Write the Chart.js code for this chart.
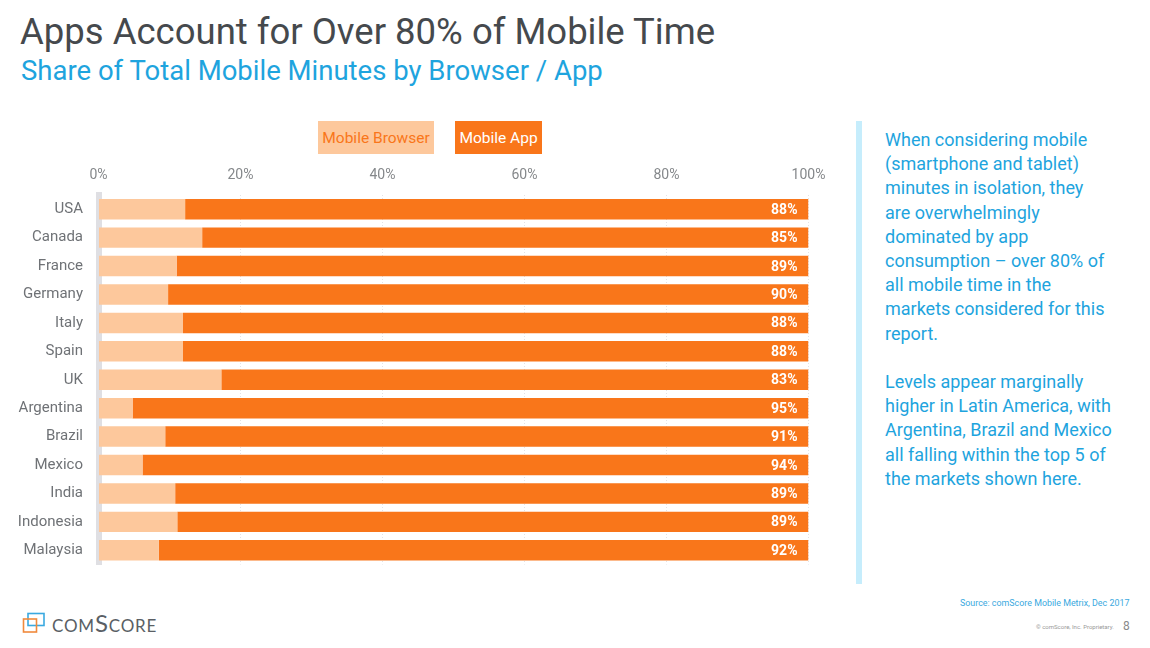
<!DOCTYPE html>
<html>
<head>
<meta charset="utf-8">
<script src="https://cdn.jsdelivr.net/npm/chart.js@4"></script>
<style>
  html, body { margin: 0; padding: 0; background: #fff; }
  body { width: 1150px; height: 648px; position: relative; overflow: hidden; font-family: Roboto, sans-serif; }
  .abs { position: absolute; white-space: nowrap; }
  #title { left: 20px; top: 9px; font-size: 36.5px; line-height: 46px; color: #45494d; }
  #subtitle { left: 21px; top: 52px; font-size: 27.5px; line-height: 38px; color: #1ea4de; }
  #chartBox { position: absolute; left: 0; top: 150px; width: 850px; height: 439px; }
  .legendBox { position: absolute; top: 121px; height: 33px; line-height: 34px; text-align: center; font-size: 15.5px; }
  #legBrowser { left: 318px; width: 116px; background: #fdc89c; color: #f9761a; }
  #legApp { left: 455px; width: 87px; background: #f9761a; color: #fff; }
  #divider { position: absolute; left: 856px; top: 121px; width: 6px; height: 463px; background: #c6edfc; }
  #note { left: 885px; top: 128px; font-size: 18px; line-height: 24.2px; color: #1ea4de; }
  #source { left: 960px; top: 598px; font-size: 8.9px; color: #3aa9e0; }
  #rights { left: 1036px; top: 623px; font-size: 6px; color: #999; }
  #page { left: 1123px; top: 619px; font-size: 12px; color: #8a8a8a; }
  #logoText { left: 52px; top: 608px; font-family: Lato, sans-serif; font-size: 24px; letter-spacing: .8px; color: #5a5f65; font-variant: small-caps; }
  #logo { position: absolute; left: 22px; top: 612px; }
</style>
</head>
<body>
<div class="abs" id="title">Apps Account for Over 80% of Mobile Time</div>
<div class="abs" id="subtitle">Share of Total Mobile Minutes by Browser / App</div>
<div class="legendBox" id="legBrowser">Mobile Browser</div>
<div class="legendBox" id="legApp">Mobile App</div>
<div id="chartBox"><canvas id="myChart"></canvas></div>
<div id="divider"></div>
<div class="abs" id="note">When considering mobile<br>(smartphone and tablet)<br>minutes in isolation, they<br>are overwhelmingly<br>dominated by app<br>consumption – over 80% of<br>all mobile time in the<br>markets considered for this<br>report.<br><br>Levels appear marginally<br>higher in Latin America, with<br>Argentina, Brazil and Mexico<br>all falling within the top 5 of<br>the markets shown here.</div>
<div class="abs" id="source">Source: comScore Mobile Metrix, Dec 2017</div>
<div class="abs" id="rights">© comScore, Inc. Proprietary.</div>
<div class="abs" id="page">8</div>
<svg id="logo" width="24" height="22" viewBox="0 0 24 22">
  <rect x="6" y="1.5" width="16" height="12" fill="none" stroke="#3aa9e0" stroke-width="1.6"/>
  <rect x="1.5" y="7" width="13" height="13" fill="none" stroke="#f08a3c" stroke-width="1.6"/>
</svg>
<div class="abs" id="logoText">comScore</div>

<script>
const countries = ["USA", "Canada", "France", "Germany", "Italy", "Spain", "UK", "Argentina", "Brazil", "Mexico", "India", "Indonesia", "Malaysia"];
const browserShare = [12.2, 14.6, 11.0, 9.8, 11.9, 11.9, 17.3, 4.8, 9.4, 6.2, 10.8, 11.1, 8.5];
const appShare = [87.8, 85.4, 89.0, 90.2, 88.1, 88.1, 82.7, 95.2, 90.6, 93.8, 89.2, 88.9, 91.5];
const appLabels = ["88%", "85%", "89%", "90%", "88%", "88%", "83%", "95%", "91%", "94%", "89%", "89%", "92%"];

// white percentages at the right end of the app bars
const appLabelPlugin = {
  id: 'appLabels',
  afterDatasetsDraw(chart) {
    const ctx = chart.ctx;
    const bars = chart.getDatasetMeta(1).data;
    ctx.save();
    ctx.fillStyle = '#fff';
    ctx.font = 'bold 14px Roboto';
    ctx.textAlign = 'right';
    ctx.textBaseline = 'middle';
    bars.forEach((bar, i) => ctx.fillText(appLabels[i], bar.x - 11, bar.y + 1));
    ctx.restore();
  }
};

new Chart(document.getElementById('myChart'), {
  type: 'bar',
  data: {
    labels: countries,
    datasets: [
      { label: 'Mobile Browser', data: browserShare, backgroundColor: '#fdc89c' },
      { label: 'Mobile App', data: appShare, backgroundColor: '#f9761a' }
    ]
  },
  options: {
    indexAxis: 'y',
    responsive: true,
    maintainAspectRatio: false,
    animation: false,
    barPercentage: 0.72,
    categoryPercentage: 1,
    layout: { padding: { left: 0, right: 41.5, top: 0, bottom: 0 } },
    plugins: { legend: { display: false }, tooltip: { enabled: false } },
    scales: {
      x: {
        position: 'top',
        stacked: true,
        min: 0,
        max: 100,
        afterFit: (scale) => { scale.height = 45; },
        ticks: {
          stepSize: 20,
          maxRotation: 0,
          padding: 11,
          color: '#85888b',
          font: { family: 'Roboto', size: 14 },
          callback: (value) => value + '%'
        },
        grid: { color: '#e3e3e6', tickLength: 0, drawTicks: false },
        border: { display: false, dash: [1, 2] }
      },
      y: {
        stacked: true,
        z: 1,
        afterFit: (scale) => { scale.width = 98.5; },
        ticks: {
          padding: 15.5,
          color: '#6f7276',
          font: { family: 'Roboto', size: 15 }
        },
        grid: { display: false, drawTicks: false },
        border: { display: true, color: '#dfdfe3', width: 6 }
      }
    }
  },
  plugins: [appLabelPlugin]
});
</script>
</body>
</html>
